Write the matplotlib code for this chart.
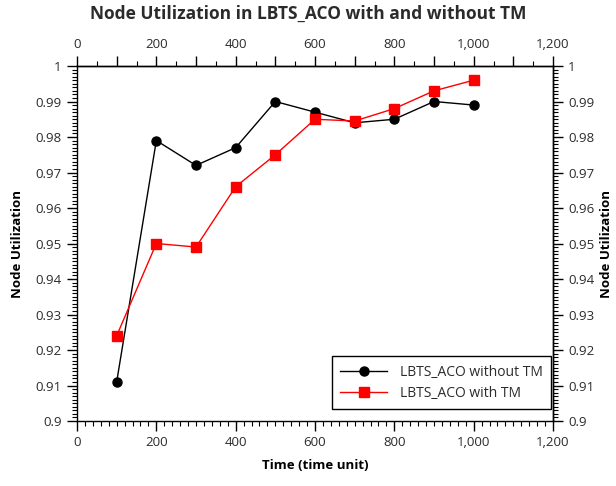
import matplotlib
matplotlib.use("Agg")
import matplotlib.pyplot as plt
from matplotlib.ticker import MultipleLocator, FuncFormatter

plt.rcParams['font.family'] = ['Open Sans', 'DejaVu Sans']

time_units = [100, 200, 300, 400, 500, 600, 700, 800, 900, 1000]
util_without_tm = [0.911, 0.979, 0.972, 0.977, 0.990, 0.987, 0.984, 0.985, 0.990, 0.989]
util_with_tm = [0.924, 0.950, 0.949, 0.966, 0.975, 0.985, 0.9845, 0.988, 0.993, 0.996]

label_without = "LBTS_ACO without TM"
label_with = "LBTS_ACO with TM"
title = "Node Utilization in LBTS_ACO with and without TM"
x_label = "Time (time unit)"
y_label = "Node Utilization"

text_color = "#2b2b2b"
fs = 9.5

fig = plt.figure(figsize=(6.16, 4.86), dpi=100)
ax = fig.add_axes([77 / 616, 1 - 421 / 486, 476 / 616, 355 / 486])

ax.plot(time_units, util_without_tm, color="black", lw=1.0, marker="o",
        markersize=6.5, label=label_without, zorder=3)
ax.plot(time_units, util_with_tm, color="red", lw=1.0, marker="s",
        markersize=6.5, label=label_with, zorder=3)

ax.set_xlim(0, 1200)
ax.set_ylim(0.9, 1.0)

comma_fmt = FuncFormatter(lambda v, p: f"{v:,.0f}")
y_fmt = FuncFormatter(lambda v, p: f"{round(v, 3):g}")

# bottom x axis
ax.xaxis.set_major_locator(MultipleLocator(200))
ax.xaxis.set_minor_locator(MultipleLocator(20))
ax.xaxis.set_major_formatter(comma_fmt)
# left y axis
ax.yaxis.set_major_locator(MultipleLocator(0.01))
ax.yaxis.set_minor_locator(MultipleLocator(0.001))
ax.yaxis.set_major_formatter(y_fmt)

ax.tick_params(which="major", direction="out", length=7, width=1,
               labelsize=fs, labelcolor=text_color, pad=4)
ax.tick_params(which="minor", direction="out", length=3.5, width=0.8)

for sp in ax.spines.values():
    sp.set_linewidth(1.0)
    sp.set_color("black")

# top x axis
top = ax.secondary_xaxis("top")
top.xaxis.set_major_locator(MultipleLocator(100))
top.xaxis.set_minor_locator(MultipleLocator(50))
top.xaxis.set_major_formatter(FuncFormatter(
    lambda v, p: f"{v:,.0f}" if round(v) % 200 == 0 else ""))
top.tick_params(which="major", direction="out", length=7, width=1,
                labelsize=fs, labelcolor=text_color, pad=4)
top.tick_params(which="minor", direction="out", length=3.5, width=0.8)
top.spines["top"].set_linewidth(1.0)

# right y axis
right = ax.secondary_yaxis("right")
right.yaxis.set_major_locator(MultipleLocator(0.01))
right.yaxis.set_minor_locator(MultipleLocator(0.001))
right.yaxis.set_major_formatter(y_fmt)
right.tick_params(which="major", direction="out", length=7, width=1,
                  labelsize=fs, labelcolor=text_color, pad=4)
right.tick_params(which="minor", direction="out", length=3.5, width=0.8)
right.spines["right"].set_linewidth(1.0)
right.set_ylabel(y_label, fontsize=fs, fontweight="bold", color="black",
                 rotation=90, labelpad=4)

ax.set_xlabel(x_label, fontsize=fs, fontweight="bold", color="black", labelpad=7)
ax.set_ylabel(y_label, fontsize=fs, fontweight="bold", color="black", labelpad=8)
fig.text(0.5, 1 - 14 / 486, title, ha="center", va="center",
         fontsize=12.5, fontweight="bold", color=text_color)

leg = ax.legend(loc="lower right", bbox_to_anchor=(0.996, 0.033),
                fontsize=10, frameon=True, fancybox=False, framealpha=1,
                edgecolor="black", handlelength=3.4, borderpad=0.6,
                labelspacing=0.45, handletextpad=0.9, borderaxespad=0)
leg.get_frame().set_linewidth(1.0)
for t in leg.get_texts():
    t.set_color(text_color)

fig.savefig("out.png", dpi=100)
